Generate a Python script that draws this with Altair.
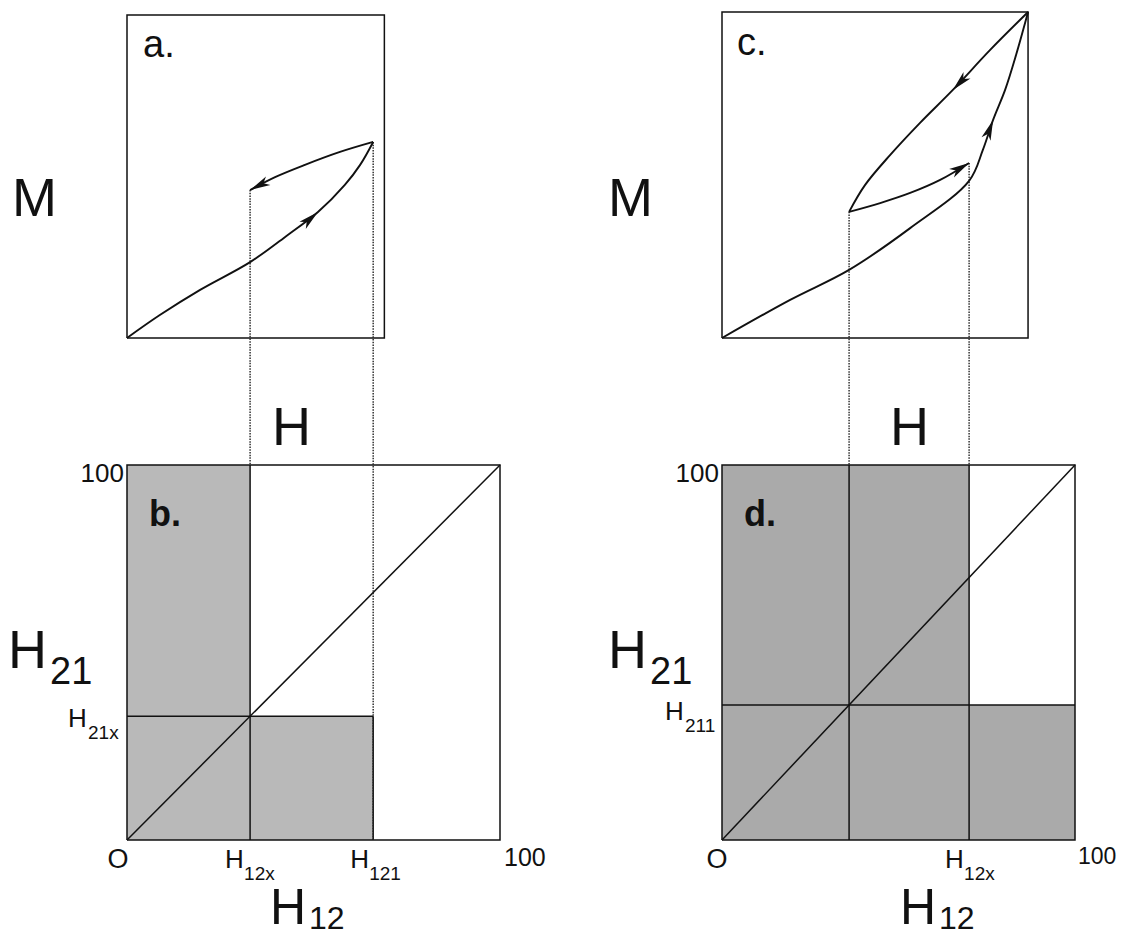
import math
import altair as alt
import pandas as pd

# ---------------- values ----------------
# Preisach plane (b): H12 / H21 on 0..100
B_H12X = 33
B_H21X = 33
B_H121 = 66
# Preisach plane (d)
D_H12_REV = 36
D_H211 = 36
D_H12X = 70

# Panel a: M(H) curve; H on the same field scale as panel b, M on 0..100
A_UP_H = [0, 8.8, 19.6, 33, 42.4, 51.2, 58.4, 62.5, 66]
A_UP_M = [0, 7.1, 14.9, 23.5, 31.3, 39.0, 47.4, 53.6, 60.7]
A_DN_H = [66, 57.1, 47.7, 39.7, 33]
A_DN_M = [60.7, 57.6, 53.6, 49.8, 45.8]
A_H_MAX = 69

# Panel c: M(H) curves; H on the same field scale as panel d
C_UP_H = [0, 19.3, 36, 53.3, 70, 73.9, 76.8, 80.2, 83.3, 86.7]
C_UP_M = [0, 11.7, 20.9, 33.7, 48.2, 57.7, 66.9, 76.1, 86.8, 100]
C_DN_H = [86.7, 75.9, 65.4, 56.1, 47.6, 40.5, 36]
C_DN_M = [100, 88.3, 76.1, 66.0, 56.1, 46.9, 38.7]
C_IN_H = [36, 44.8, 53.3, 61.8, 70]
C_IN_M = [38.7, 41.4, 44.5, 48.5, 53.7]
C_H_MAX = 86.7

# ---------------- layout (page pixels) ----------------
# panel: (x of H=0, px per unit H, y of M=0, px per unit M)
PANELS = {
    "a": (127, 3.73, 338, 3.23),
    "b": (127, 3.73, 840, 3.75),
    "c": (722, 3.53, 338, 3.26),
    "d": (722, 3.53, 840, 3.75),
}


def px(panel, h, m):
    x0, sx, y0, sy = PANELS[panel]
    return x0 + sx * h, y0 - sy * m


line_rows = []


def add_line(kind, lid, panel_pts):
    for i, (panel, h, m) in enumerate(panel_pts):
        x, y = px(panel, h, m)
        line_rows.append({"kind": kind, "id": lid, "ord": i, "x": x, "y": y})


def frame(panel, hmax):
    return [(panel, 0, 0), (panel, hmax, 0), (panel, hmax, 100), (panel, 0, 100), (panel, 0, 0)]


# frames
add_line("frame", "fa", frame("a", A_H_MAX))
add_line("frame", "fb", frame("b", 100))
add_line("frame", "fc", frame("c", C_H_MAX))
add_line("frame", "fd", frame("d", 100))
# panel b inner lines
add_line("frame", "b1", [("b", B_H12X, 0), ("b", B_H12X, 100)])
add_line("frame", "b2", [("b", 0, B_H21X), ("b", B_H121, B_H21X)])
add_line("frame", "b3", [("b", B_H121, 0), ("b", B_H121, B_H21X)])
add_line("frame", "b4", [("b", 0, 0), ("b", 100, 100)])
# panel d inner lines
add_line("frame", "d1", [("d", D_H12_REV, 0), ("d", D_H12_REV, 100)])
add_line("frame", "d2", [("d", D_H12X, 0), ("d", D_H12X, 100)])
add_line("frame", "d3", [("d", 0, D_H211), ("d", 100, D_H211)])
add_line("frame", "d4", [("d", 0, 0), ("d", 100, 100)])
# curves
curves = {
    "a_up": ("a", A_UP_H, A_UP_M),
    "a_dn": ("a", A_DN_H, A_DN_M),
    "c_up": ("c", C_UP_H, C_UP_M),
    "c_dn": ("c", C_DN_H, C_DN_M),
    "c_in": ("c", C_IN_H, C_IN_M),
}
for cid, (panel, hs, ms) in curves.items():
    add_line("curve", cid, [(panel, h, m) for h, m in zip(hs, ms)])
# dotted projections
add_line("dot", "p1", [("a", A_DN_H[-1], A_DN_M[-1]), ("b", B_H12X, 100)])
add_line("dot", "p2", [("a", A_UP_H[-1], A_UP_M[-1]), ("b", B_H121, 0)])
add_line("dot", "p3", [("c", C_IN_H[0], C_IN_M[0]), ("d", D_H12_REV, 100)])
add_line("dot", "p4", [("c", C_IN_H[-1], C_IN_M[-1]), ("d", D_H12X, 100)])

lines = pd.DataFrame(line_rows)

# shaded regions of the Preisach planes
rect_rows = []
for panel, h0, h1, m0, m1, col in [
    ("b", 0, B_H12X, 0, 100, "#b9b9b9"),
    ("b", B_H12X, B_H121, 0, B_H21X, "#b9b9b9"),
    ("d", 0, D_H12X, 0, 100, "#aaaaaa"),
    ("d", D_H12X, 100, 0, D_H211, "#aaaaaa"),
]:
    x0, y0 = px(panel, h0, m0)
    x1, y1 = px(panel, h1, m1)
    rect_rows.append({"x": x0, "x2": x1, "y": y0, "y2": y1, "col": col})
rects = pd.DataFrame(rect_rows)

# arrow heads: (curve, vertex index)
arrow_rows = []
for cid, i in [("a_up", 5), ("a_dn", 4), ("c_dn", 2), ("c_up", 6), ("c_in", 4)]:
    panel, hs, ms = curves[cid]
    j0 = i - 1
    j1 = min(i + 1, len(hs) - 1)
    xa, ya = px(panel, hs[j0], ms[j0])
    xb, yb = px(panel, hs[j1], ms[j1])
    xt, yt = px(panel, hs[i], ms[i])
    ang = math.degrees(math.atan2(xb - xa, -(yb - ya))) % 360
    arrow_rows.append({"x": xt, "y": yt, "ang": ang})
arrows = pd.DataFrame(arrow_rows)

# text labels: text, x, y (baseline), size, style, alignment
bx = lambda h: px("b", h, 0)[0]
dx = lambda h: px("d", h, 0)[0]
text_rows = [
    ("a.", 143, 57, 38, "n", "left"),
    ("c.", 737, 55, 38, "n", "left"),
    ("M", 12, 216, 54, "n", "left"),
    ("M", 608, 216, 54, "n", "left"),
    ("H", 272, 445, 54, "n", "left"),
    ("H", 890, 445, 54, "n", "left"),
    # panel b
    ("100", 124, 482, 26, "n", "right"),
    ("b.", 149, 526, 36, "b", "left"),
    ("H", 8, 668, 54, "n", "left"),
    ("21", 50, 684, 38, "n", "left"),
    ("H", 68, 727, 26, "n", "left"),
    ("21x", 88, 739, 19, "n", "left"),
    ("O", bx(0) - 9, 868, 27, "n", "center"),
    ("H", bx(B_H12X) - 25, 868, 26, "n", "left"),
    ("12x", bx(B_H12X) - 6, 880, 19, "n", "left"),
    ("H", bx(B_H121) - 23, 868, 26, "n", "left"),
    ("121", bx(B_H121) - 4, 880, 19, "n", "left"),
    ("100", bx(100) + 4, 866, 25, "n", "left"),
    ("H", 270, 924, 50, "n", "left"),
    ("12", 309, 929, 32, "n", "left"),
    # panel d
    ("100", 719, 482, 26, "n", "right"),
    ("d.", 744, 526, 36, "b", "left"),
    ("H", 608, 668, 54, "n", "left"),
    ("21", 650, 684, 38, "n", "left"),
    ("H", 665, 720, 26, "n", "left"),
    ("211", 685, 732, 19, "n", "left"),
    ("O", dx(0) - 5, 868, 27, "n", "center"),
    ("H", dx(D_H12X) - 24, 868, 26, "n", "left"),
    ("12x", dx(D_H12X) - 5, 880, 19, "n", "left"),
    ("100", dx(100) + 3, 864, 23, "n", "left"),
    ("H", 900, 924, 50, "n", "left"),
    ("12", 939, 929, 32, "n", "left"),
]
texts = pd.DataFrame(text_rows, columns=["t", "x", "y", "size", "wt", "al"])

W, H = 1110, 930
xs = alt.Scale(domain=[8, 8 + W], nice=False, zero=False)
ys = alt.Scale(domain=[8, 8 + H], nice=False, zero=False, reverse=True)
X = lambda f="x": alt.X(f"{f}:Q", scale=xs, axis=None)
Y = lambda f="y": alt.Y(f"{f}:Q", scale=ys, axis=None)

layers = []
layers.append(
    alt.Chart(rects).mark_rect(opacity=1).encode(
        x=X(), x2="x2:Q", y=Y(), y2="y2:Q", color=alt.Color("col:N", scale=None)
    )
)
for kind, sw, dash, col, interp in [
    ("frame", 1.5, None, "#111111", "linear"),
    ("dot", 1.4, [1.5, 1.2], "#222222", "linear"),
    ("curve", 1.9, None, "#111111", "catmull-rom"),
]:
    kw = dict(strokeWidth=sw, color=col, strokeCap="butt", interpolate=interp)
    if dash:
        kw["strokeDash"] = dash
    layers.append(
        alt.Chart(lines[lines["kind"] == kind]).mark_line(**kw).encode(
            x=X(), y=Y(), detail="id:N", order="ord:Q"
        )
    )
layers.append(
    alt.Chart(arrows).mark_point(
        shape="M0,0L0.45,1.9L0,1.4L-0.45,1.9Z", filled=True, color="#111111",
        size=460, opacity=1, strokeWidth=0
    ).encode(x=X(), y=Y(), angle=alt.Angle("ang:Q", scale=None))
)
for wt in ["n", "b"]:
    for al in ["left", "right", "center"]:
        sub = texts[(texts["wt"] == wt) & (texts["al"] == al)]
        if len(sub) == 0:
            continue
        layers.append(
            alt.Chart(sub).mark_text(
                font="Liberation Sans", align=al, baseline="alphabetic",
                fontWeight="bold" if wt == "b" else "normal", color="#111111"
            ).encode(x=X(), y=Y(), text="t:N", size=alt.Size("size:Q", scale=None))
        )

chart = alt.layer(*layers).properties(
    width=W, height=H, padding=0, autosize=alt.AutoSizeParams(type="none")
).configure_view(stroke=None)

chart.save("out.html", embed_options={"renderer": "svg", "actions": False})
